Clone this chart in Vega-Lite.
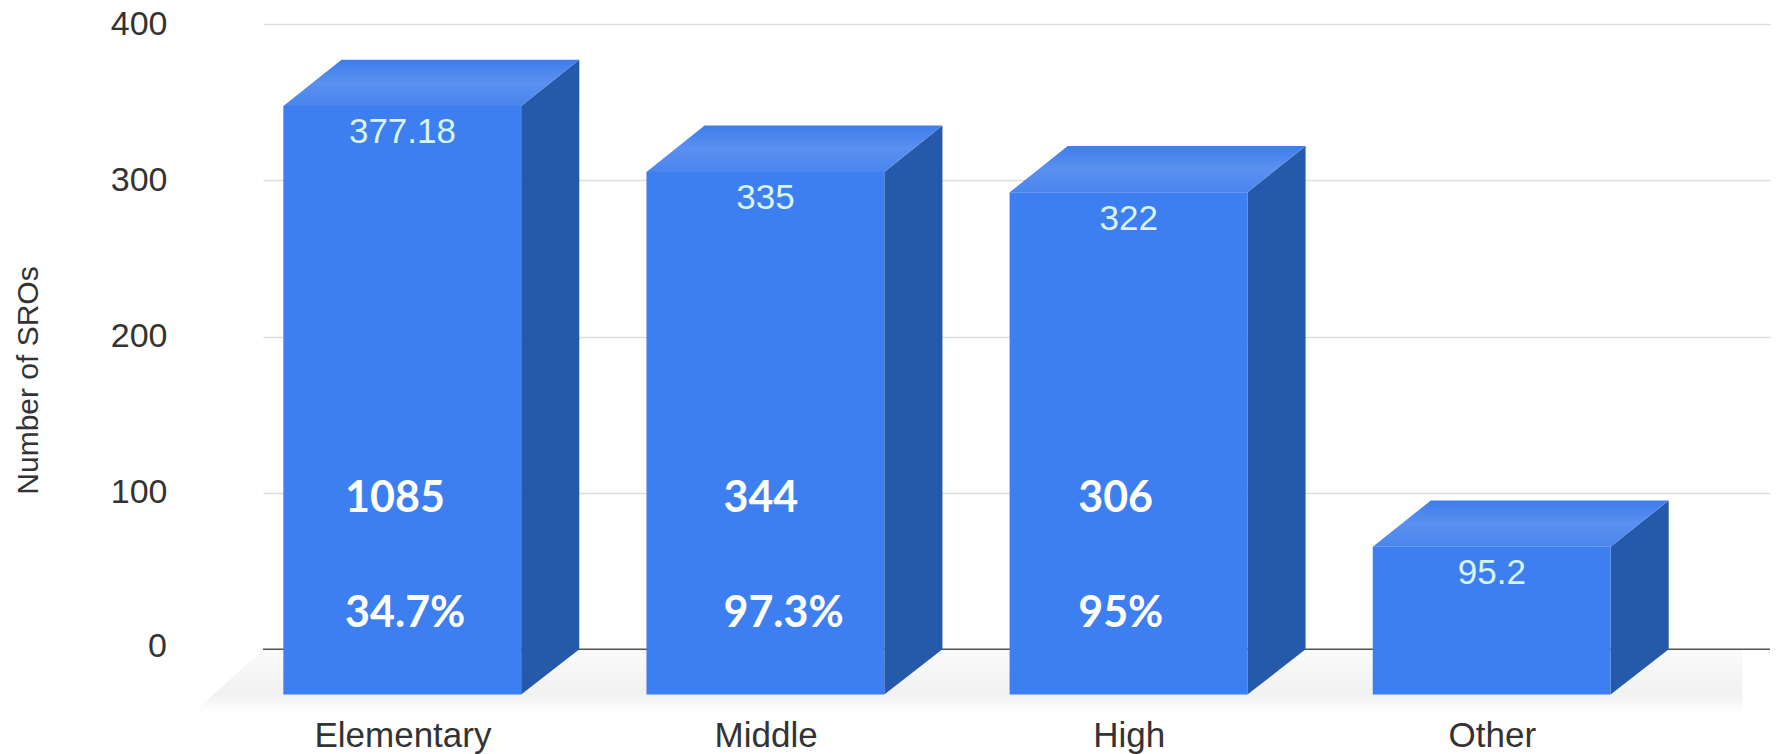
{
"$schema":"https://vega.github.io/schema/vega-lite/v6.json",
"width":1507,"height":692,
"autosize":{"type":"none"},
"padding":{"left":263,"top":24,"right":7,"bottom":38},
"background":"white",
"config":{"view":{"stroke":null}},
"datasets":{
"floor":[{"x":-0.577,"y":-41,"y2":-41},{"x":-0.384,"y":0,"y2":-41},{"x":3.69,"y":0,"y2":-41}],
"zero":[{"y":0}],
"bars":[
{"cat":"Elementary","center":0,"left":-0.328,"right":0.327,"front":347.5,"bottom":-29,"value":"377.18","labelY":331},
{"cat":"Middle","center":1,"left":0.672,"right":1.327,"front":305.3,"bottom":-29,"value":"335","labelY":289},
{"cat":"High","center":2,"left":1.672,"right":2.327,"front":292.3,"bottom":-29,"value":"322","labelY":275},
{"cat":"Other","center":3,"left":2.672,"right":3.327,"front":65.5,"bottom":-29,"value":"95.2","labelY":49}],
"sides":[
{"cat":"Elementary","x":0.327,"y":347.5,"y2":-29},{"cat":"Elementary","x":0.487,"y":377.18,"y2":0},
{"cat":"Middle","x":1.327,"y":305.3,"y2":-29},{"cat":"Middle","x":1.487,"y":335,"y2":0},
{"cat":"High","x":2.327,"y":292.3,"y2":-29},{"cat":"High","x":2.487,"y":322,"y2":0},
{"cat":"Other","x":3.327,"y":65.5,"y2":-29},{"cat":"Other","x":3.487,"y":95.2,"y2":0}],
"tops":[
{"cat":"Elementary","x":-0.328,"y":347.5,"y2":347.5},{"cat":"Elementary","x":-0.168,"y":377.18,"y2":347.5},{"cat":"Elementary","x":0.327,"y":377.18,"y2":347.5},{"cat":"Elementary","x":0.487,"y":377.18,"y2":377.18},
{"cat":"Middle","x":0.672,"y":305.3,"y2":305.3},{"cat":"Middle","x":0.832,"y":335,"y2":305.3},{"cat":"Middle","x":1.327,"y":335,"y2":305.3},{"cat":"Middle","x":1.487,"y":335,"y2":335},
{"cat":"High","x":1.672,"y":292.3,"y2":292.3},{"cat":"High","x":1.832,"y":322,"y2":292.3},{"cat":"High","x":2.327,"y":322,"y2":292.3},{"cat":"High","x":2.487,"y":322,"y2":322},
{"cat":"Other","x":2.672,"y":65.5,"y2":65.5},{"cat":"Other","x":2.832,"y":95.2,"y2":65.5},{"cat":"Other","x":3.327,"y":95.2,"y2":65.5},{"cat":"Other","x":3.487,"y":95.2,"y2":95.2}],
"notes":[
{"text":"1085","x":-0.158,"y":96.3},{"text":"344","x":0.884,"y":96.3},{"text":"306","x":1.861,"y":96.3},
{"text":"34.7%","x":-0.158,"y":22.4},{"text":"97.3%","x":0.884,"y":22.4},{"text":"95%","x":1.861,"y":22.4}]
},
"layer":[
{"data":{"name":"floor"},
 "mark":{"type":"area","fill":{"gradient":"linear","x1":0,"y1":0,"x2":0,"y2":1,"stops":[{"offset":0,"color":"#fbfbfb"},{"offset":0.7,"color":"#f1f1f1"},{"offset":1,"color":"#ffffff"}]}},
 "encoding":{
  "x":{"field":"x","type":"quantitative","scale":{"domain":[-0.384,3.766],"nice":false,"zero":false},
   "axis":{"title":null,"values":[0,1,2,3],"labelExpr":"['Elementary','Middle','High','Other'][datum.value]","grid":false,"domain":false,"ticks":false,"labelFont":"Liberation Sans","labelFontSize":35,"labelColor":"#333333","labelPadding":2,"labelBaseline":"top"}},
  "y":{"field":"y","type":"quantitative","scale":{"domain":[-42.7,400],"nice":false,"zero":false},
   "axis":{"title":"Number of SROs","values":[100,200,300,400],"grid":true,"gridColor":"#dddddd","gridWidth":1.5,"domain":false,"ticks":false,"labelFont":"Liberation Sans","labelFontSize":34,"labelColor":"#333333","labelPadding":96,"titleFont":"Liberation Sans","titleFontSize":30,"titleFontWeight":"normal","titleColor":"#333333","titleX":-235,"titleY":356,"titleAngle":270,"titleAlign":"center","titleBaseline":"middle"}},
  "y2":{"field":"y2"}}},
{"data":{"name":"zero"},
 "mark":{"type":"rule","color":"#555555","strokeWidth":1.5},
 "encoding":{"y":{"field":"y","type":"quantitative"}}},
{"data":{"name":"zero"},
 "mark":{"type":"text","font":"Liberation Sans","fontSize":34,"color":"#333333","align":"right","baseline":"middle","dx":-96,"dy":-2},
 "encoding":{"x":{"datum":-0.384,"type":"quantitative"},"y":{"field":"y","type":"quantitative"},"text":{"field":"y"}}},
{"data":{"name":"sides"},
 "mark":{"type":"area","color":"#2559a9"},
 "encoding":{"x":{"field":"x","type":"quantitative"},"y":{"field":"y","type":"quantitative"},"y2":{"field":"y2"},"detail":{"field":"cat"}}},
{"data":{"name":"tops"},
 "mark":{"type":"area","fill":{"gradient":"linear","x1":0,"y1":0,"x2":0,"y2":1,"stops":[{"offset":0,"color":"#3f7ded"},{"offset":0.5,"color":"#5a90ee"},{"offset":1,"color":"#4a85ee"}]}},
 "encoding":{"x":{"field":"x","type":"quantitative"},"y":{"field":"y","type":"quantitative"},"y2":{"field":"y2"},"detail":{"field":"cat"}}},
{"data":{"name":"bars"},
 "mark":{"type":"rect","color":"#3d7ff0"},
 "encoding":{"x":{"field":"left","type":"quantitative"},"x2":{"field":"right"},"y":{"field":"front","type":"quantitative"},"y2":{"field":"bottom"}}},
{"data":{"name":"bars"},
 "mark":{"type":"text","font":"Liberation Sans","fontSize":35,"color":"#d8f5f2","align":"center","baseline":"middle"},
 "encoding":{"x":{"field":"center","type":"quantitative"},"y":{"field":"labelY","type":"quantitative"},"text":{"field":"value"}}},
{"data":{"name":"notes"},
 "mark":{"type":"text","font":"Lato","fontWeight":"bold","fontSize":43,"color":"#ffffff","align":"left","baseline":"middle"},
 "encoding":{"x":{"field":"x","type":"quantitative"},"y":{"field":"y","type":"quantitative"},"text":{"field":"text"}}}
]
}
